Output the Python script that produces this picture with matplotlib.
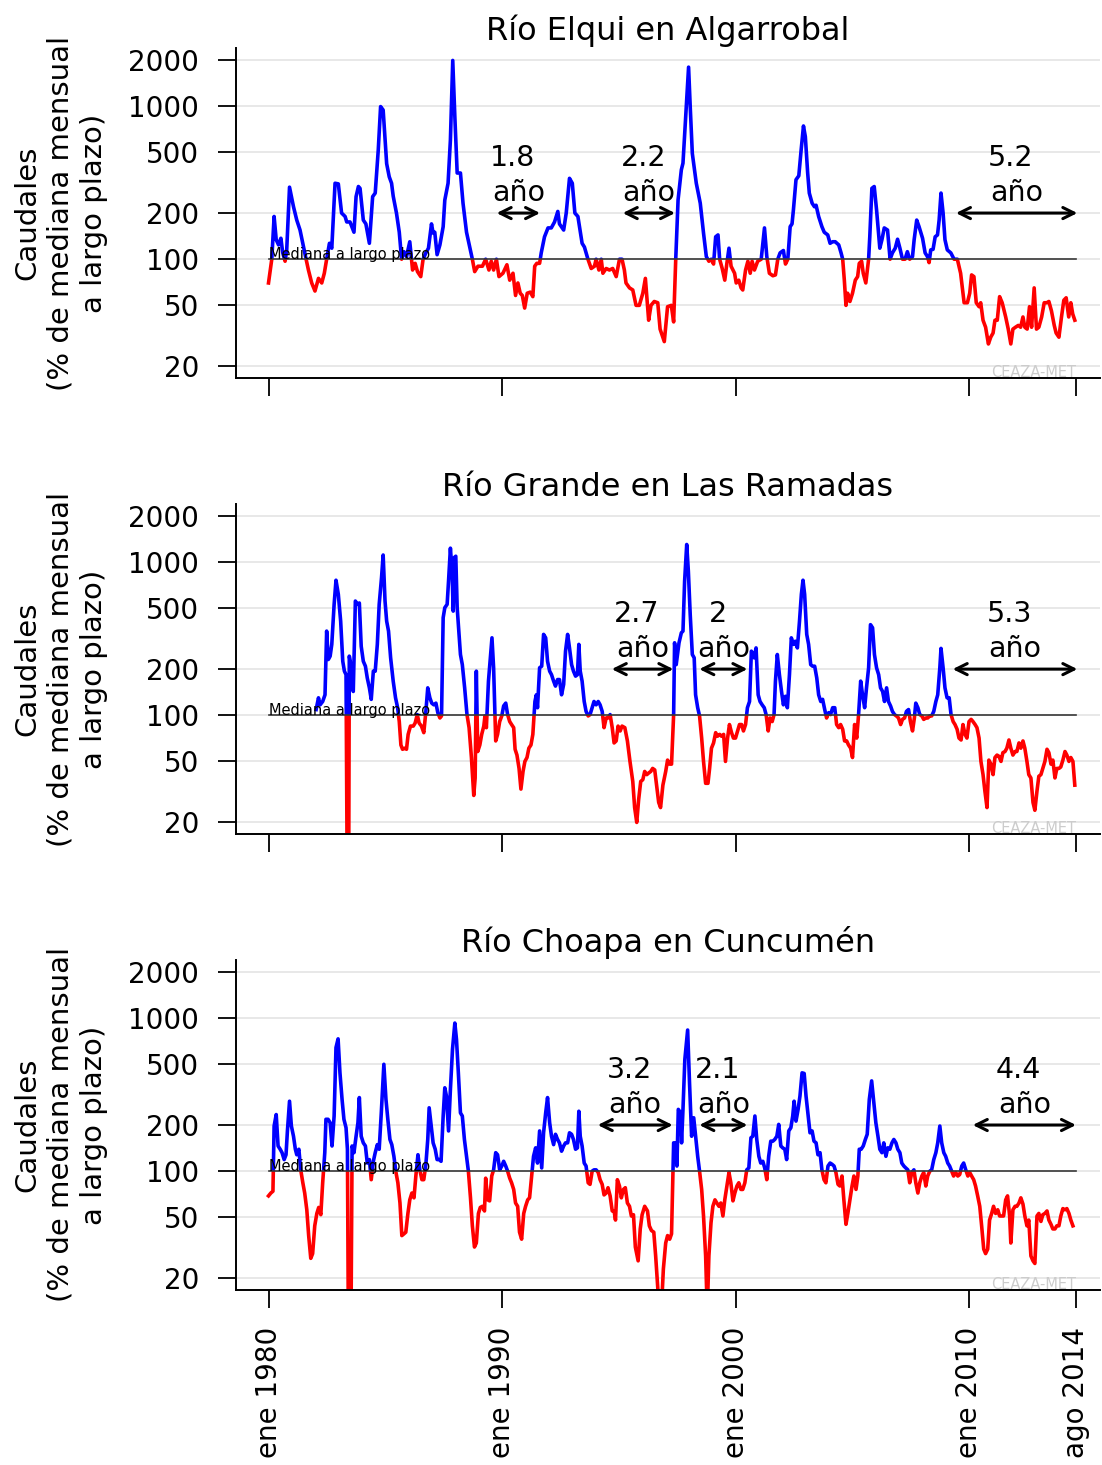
import numpy as np
import matplotlib.pyplot as plt
from matplotlib.patches import Rectangle

plt.rcParams['font.family'] = ['DejaVu Sans']

# caudal mensual, % de la mediana mensual de largo plazo
# pares (años desde ene 1980, %)
elqui = [
    (0.00, 70), (0.14, 100), (0.24, 190), (0.33, 134), (0.43, 124), (0.53, 137), (0.61, 110), (0.71, 97),
    (0.78, 115), (0.90, 295), (1.07, 220), (1.21, 180), (1.35, 155), (1.50, 120), (1.61, 100), (1.71, 85),
    (1.85, 70), (1.99, 62), (2.14, 75), (2.28, 70), (2.39, 81), (2.49, 100), (2.61, 127), (2.71, 118),
    (2.85, 313), (2.99, 310), (3.13, 200), (3.28, 190), (3.35, 175), (3.49, 175), (3.66, 150), (3.75, 256),
    (3.85, 298), (3.92, 290), (4.06, 180), (4.17, 170), (4.32, 127), (4.46, 256), (4.57, 270), (4.70, 515),
    (4.80, 990), (4.91, 940), (5.06, 420), (5.17, 345), (5.27, 313), (5.34, 258), (5.48, 200), (5.60, 150),
    (5.70, 100), (5.80, 112), (5.91, 104), (6.05, 130), (6.17, 85), (6.28, 94), (6.38, 83), (6.52, 77),
    (6.62, 100), (6.74, 110), (6.85, 118), (6.98, 170), (7.05, 148), (7.12, 150), (7.22, 107), (7.34, 124),
    (7.48, 163), (7.55, 243), (7.69, 313), (7.79, 600), (7.89, 1980), (7.98, 850), (8.08, 365), (8.22, 365),
    (8.33, 232), (8.48, 150), (8.62, 120), (8.73, 100), (8.83, 83), (8.97, 90), (9.16, 90), (9.30, 100),
    (9.44, 85), (9.54, 97), (9.64, 85), (9.76, 100), (9.87, 77), (10.04, 81), (10.21, 92), (10.33, 73),
    (10.47, 81), (10.58, 58), (10.68, 70), (10.78, 60), (10.87, 58), (10.97, 48), (11.08, 60), (11.21, 61),
    (11.32, 57), (11.40, 90), (11.49, 94), (11.61, 94), (11.68, 110), (11.82, 140), (11.97, 160), (12.11, 160),
    (12.25, 175), (12.39, 205), (12.46, 170), (12.64, 155), (12.75, 200), (12.89, 337), (13.01, 313), (13.12, 200),
    (13.25, 190), (13.43, 127), (13.53, 120), (13.68, 100), (13.82, 87), (13.96, 90), (14.03, 100), (14.15, 85),
    (14.25, 100), (14.32, 81), (14.46, 87), (14.60, 85), (14.74, 87), (14.89, 77), (15.03, 100), (15.14, 100),
    (15.24, 85), (15.31, 70), (15.46, 65), (15.60, 63), (15.74, 50), (15.88, 50), (16.03, 60), (16.14, 75),
    (16.28, 40), (16.38, 50), (16.52, 53), (16.67, 52), (16.77, 35), (16.95, 29), (17.09, 49), (17.25, 50),
    (17.35, 39), (17.44, 100), (17.54, 244), (17.68, 383), (17.75, 423), (17.89, 990), (17.99, 1790), (18.06, 990),
    (18.15, 490), (18.32, 313), (18.49, 232), (18.63, 148), (18.75, 104), (18.86, 97), (18.96, 100), (19.06, 93),
    (19.15, 140), (19.25, 144), (19.32, 100), (19.43, 87), (19.54, 73), (19.63, 94), (19.72, 118), (19.81, 90),
    (19.96, 81), (20.03, 70), (20.14, 73), (20.24, 65), (20.31, 63), (20.43, 85), (20.53, 97), (20.63, 81),
    (20.71, 97), (20.81, 85), (20.95, 97), (21.10, 100), (21.24, 160), (21.34, 104), (21.45, 81), (21.60, 78),
    (21.71, 79), (21.81, 100), (21.91, 110), (22.05, 114), (22.14, 93), (22.24, 100), (22.34, 163), (22.42, 170),
    (22.48, 210), (22.59, 330), (22.71, 350), (22.81, 515), (22.91, 740), (22.99, 630), (23.09, 365), (23.16, 270),
    (23.28, 232), (23.38, 220), (23.45, 225), (23.56, 190), (23.70, 163), (23.80, 150), (23.95, 144), (24.05, 127),
    (24.16, 130), (24.27, 130), (24.42, 124), (24.52, 110), (24.59, 100), (24.66, 73), (24.73, 50), (24.80, 60),
    (24.90, 53), (25.01, 60), (25.13, 73), (25.23, 77), (25.30, 94), (25.40, 97), (25.47, 81), (25.58, 70),
    (25.70, 100), (25.75, 140), (25.84, 290), (25.94, 298), (26.04, 210), (26.18, 118), (26.27, 134), (26.37, 160),
    (26.51, 155), (26.62, 100), (26.72, 110), (26.84, 118), (26.94, 135), (27.04, 118), (27.15, 100), (27.26, 100),
    (27.36, 112), (27.46, 100), (27.58, 104), (27.65, 134), (27.76, 180), (27.86, 163), (28.01, 137), (28.12, 110),
    (28.22, 104), (28.29, 95), (28.36, 115), (28.46, 116), (28.55, 140), (28.65, 144), (28.72, 180), (28.80, 270),
    (28.89, 200), (28.97, 134), (29.07, 115), (29.22, 110), (29.36, 100), (29.50, 100), (29.64, 81), (29.79, 52),
    (29.93, 52), (30.03, 60), (30.11, 79), (30.21, 77), (30.31, 52), (30.43, 49), (30.50, 52), (30.60, 40),
    (30.71, 36), (30.83, 28), (30.93, 31), (31.03, 33), (31.11, 40), (31.21, 40), (31.31, 57), (31.42, 52),
    (31.57, 42), (31.68, 35), (31.79, 28), (31.88, 35), (31.99, 36), (32.11, 37), (32.21, 36), (32.31, 42),
    (32.39, 36), (32.49, 35), (32.59, 49), (32.68, 36), (32.79, 65), (32.89, 35), (32.99, 36), (33.11, 42),
    (33.22, 52), (33.33, 52), (33.42, 53), (33.53, 46), (33.65, 37), (33.73, 33), (33.85, 31), (33.96, 42),
    (34.06, 54), (34.16, 56), (34.27, 42), (34.36, 52), (34.44, 44), (34.53, 40),
]

grande = [
    (2.04, 109), (2.14, 130), (2.21, 117), (2.32, 123), (2.42, 136), (2.49, 354), (2.56, 231), (2.64, 243),
    (2.71, 290), (2.81, 529), (2.89, 760), (2.99, 615), (3.09, 411), (3.18, 225), (3.25, 194), (3.32, 184),
    (3.38, 5), (3.43, 5), (3.46, 243), (3.55, 204), (3.63, 143), (3.72, 556), (3.80, 529), (3.89, 540),
    (3.97, 282), (4.06, 225), (4.15, 209), (4.23, 175), (4.32, 151), (4.40, 127), (4.49, 194), (4.57, 194),
    (4.66, 290), (4.74, 529), (4.84, 790), (4.91, 1110), (4.99, 556), (5.06, 411), (5.14, 354), (5.23, 237),
    (5.34, 167), (5.44, 130), (5.53, 112), (5.60, 91), (5.67, 64), (5.74, 60), (5.84, 61), (5.91, 60),
    (5.98, 75), (6.08, 85), (6.20, 85), (6.28, 89), (6.37, 101), (6.45, 89), (6.55, 85), (6.65, 77),
    (6.74, 106), (6.82, 151), (6.91, 130), (6.99, 120), (7.08, 117), (7.17, 120), (7.25, 104), (7.34, 96),
    (7.41, 99), (7.48, 433), (7.55, 503), (7.65, 529), (7.71, 750), (7.79, 1230), (7.86, 872), (7.91, 478),
    (7.96, 1070), (8.02, 1090), (8.08, 503), (8.16, 337), (8.22, 249), (8.30, 214), (8.40, 151), (8.50, 101),
    (8.59, 83), (8.69, 53), (8.79, 30), (8.85, 39), (8.90, 194), (8.96, 58), (9.05, 64), (9.13, 75),
    (9.22, 85), (9.27, 99), (9.33, 83), (9.42, 167), (9.50, 237), (9.57, 320), (9.64, 204), (9.73, 68),
    (9.81, 75), (9.90, 91), (9.99, 99), (10.07, 115), (10.16, 120), (10.24, 101), (10.33, 91), (10.41, 87),
    (10.50, 83), (10.56, 60), (10.64, 55), (10.73, 45), (10.81, 33), (10.90, 43), (10.98, 50), (11.07, 53),
    (11.15, 61), (11.24, 64), (11.32, 75), (11.41, 123), (11.47, 136), (11.52, 112), (11.61, 204), (11.70, 209),
    (11.78, 337), (11.87, 320), (11.95, 225), (12.04, 194), (12.12, 184), (12.21, 167), (12.29, 155), (12.38, 171),
    (12.46, 171), (12.55, 136), (12.64, 159), (12.72, 262), (12.81, 337), (12.89, 275), (12.98, 214), (13.06, 194),
    (13.15, 180), (13.23, 184), (13.29, 290), (13.35, 194), (13.43, 167), (13.52, 123), (13.60, 106), (13.69, 99),
    (13.77, 101), (13.86, 112), (13.94, 123), (14.03, 117), (14.12, 123), (14.20, 117), (14.29, 106), (14.37, 83),
    (14.46, 96), (14.54, 96), (14.63, 101), (14.72, 83), (14.80, 66), (14.89, 68), (14.97, 85), (15.06, 79),
    (15.14, 85), (15.26, 83), (15.37, 68), (15.48, 50), (15.60, 37), (15.68, 25), (15.77, 20), (15.85, 28),
    (15.94, 37), (16.03, 38), (16.11, 43), (16.20, 41), (16.28, 42), (16.37, 43), (16.45, 45), (16.54, 44),
    (16.62, 35), (16.71, 27), (16.79, 25), (16.89, 35), (17.01, 43), (17.09, 51), (17.18, 48), (17.26, 48),
    (17.35, 101), (17.39, 297), (17.46, 214), (17.58, 297), (17.68, 345), (17.75, 354), (17.82, 750), (17.91, 1300),
    (17.98, 872), (18.06, 454), (18.15, 249), (18.23, 237), (18.29, 136), (18.38, 112), (18.46, 99), (18.55, 71),
    (18.63, 50), (18.72, 36), (18.82, 36), (18.89, 45), (18.97, 61), (19.06, 66), (19.15, 77), (19.23, 73),
    (19.32, 75), (19.40, 73), (19.49, 75), (19.57, 50), (19.66, 71), (19.74, 87), (19.83, 77), (19.91, 71),
    (20.00, 71), (20.09, 79), (20.17, 87), (20.26, 87), (20.34, 79), (20.43, 87), (20.51, 112), (20.60, 123),
    (20.68, 262), (20.80, 237), (20.88, 275), (20.97, 136), (21.05, 123), (21.14, 117), (21.23, 112), (21.31, 101),
    (21.40, 79), (21.48, 96), (21.57, 91), (21.65, 101), (21.71, 167), (21.79, 249), (21.88, 184), (21.97, 143),
    (22.05, 117), (22.14, 133), (22.22, 112), (22.31, 184), (22.39, 320), (22.48, 290), (22.56, 304), (22.65, 275),
    (22.74, 411), (22.82, 615), (22.89, 760), (22.96, 615), (23.05, 337), (23.13, 290), (23.22, 214), (23.30, 209),
    (23.39, 209), (23.48, 175), (23.56, 136), (23.65, 123), (23.73, 127), (23.82, 109), (23.90, 96), (23.99, 104),
    (24.07, 101), (24.16, 112), (24.25, 112), (24.33, 87), (24.42, 83), (24.50, 87), (24.59, 81), (24.67, 68),
    (24.76, 68), (24.84, 64), (24.93, 61), (25.01, 53), (25.10, 87), (25.19, 71), (25.27, 101), (25.36, 167),
    (25.44, 136), (25.53, 112), (25.61, 151), (25.70, 204), (25.78, 390), (25.87, 372), (25.95, 249), (26.04, 204),
    (26.13, 184), (26.21, 151), (26.30, 143), (26.38, 123), (26.47, 151), (26.55, 123), (26.64, 115), (26.72, 106),
    (26.81, 101), (26.89, 99), (26.98, 96), (27.07, 87), (27.15, 94), (27.24, 96), (27.32, 106), (27.41, 109),
    (27.49, 91), (27.58, 79), (27.66, 96), (27.72, 120), (27.81, 112), (27.89, 101), (27.98, 99), (28.06, 94),
    (28.15, 96), (28.23, 96), (28.32, 99), (28.40, 99), (28.49, 106), (28.58, 123), (28.66, 136), (28.75, 204),
    (28.80, 273), (28.89, 204), (28.97, 151), (29.06, 130), (29.15, 130), (29.23, 101), (29.32, 91), (29.40, 87),
    (29.49, 81), (29.57, 71), (29.66, 69), (29.74, 87), (29.83, 75), (29.91, 71), (30.00, 91), (30.09, 94),
    (30.17, 91), (30.26, 87), (30.34, 83), (30.43, 71), (30.51, 50), (30.60, 41), (30.68, 32), (30.77, 25),
    (30.85, 51), (30.94, 48), (31.03, 41), (31.11, 53), (31.20, 55), (31.28, 54), (31.37, 50), (31.45, 57),
    (31.54, 58), (31.62, 61), (31.71, 69), (31.79, 61), (31.88, 55), (31.97, 58), (32.05, 58), (32.14, 66),
    (32.22, 61), (32.31, 68), (32.39, 61), (32.48, 50), (32.56, 41), (32.65, 39), (32.74, 27), (32.82, 24),
    (32.91, 32), (32.99, 40), (33.08, 41), (33.16, 45), (33.25, 50), (33.34, 60), (33.42, 57), (33.51, 48),
    (33.59, 51), (33.68, 39), (33.76, 45), (33.85, 45), (33.93, 46), (34.02, 51), (34.11, 58), (34.19, 55),
    (34.28, 50), (34.36, 53), (34.45, 50), (34.53, 35),
]

choapa = [
    (0.00, 69), (0.10, 72), (0.19, 74), (0.24, 197), (0.33, 234), (0.41, 146), (0.50, 139), (0.58, 132),
    (0.67, 119), (0.75, 128), (0.81, 183), (0.90, 286), (0.98, 197), (1.07, 169), (1.15, 139), (1.21, 128),
    (1.30, 139), (1.38, 102), (1.47, 84), (1.55, 72), (1.64, 56), (1.72, 38), (1.81, 27), (1.89, 29),
    (1.98, 44), (2.07, 53), (2.15, 58), (2.24, 52), (2.32, 84), (2.41, 132), (2.46, 218), (2.55, 218),
    (2.64, 207), (2.72, 146), (2.81, 229), (2.89, 640), (2.98, 730), (3.06, 438), (3.15, 294), (3.23, 218),
    (3.32, 192), (3.38, 139), (3.43, 5), (3.52, 5), (3.58, 146), (3.66, 132), (3.75, 169), (3.83, 207),
    (3.89, 302), (3.97, 169), (4.06, 153), (4.15, 146), (4.23, 113), (4.32, 119), (4.40, 88), (4.49, 116),
    (4.57, 132), (4.66, 149), (4.74, 139), (4.83, 240), (4.94, 498), (5.03, 294), (5.11, 218), (5.20, 161),
    (5.28, 149), (5.37, 125), (5.46, 98), (5.54, 84), (5.63, 62), (5.71, 38), (5.80, 39), (5.88, 40),
    (5.97, 53), (6.05, 65), (6.14, 72), (6.23, 67), (6.31, 93), (6.40, 128), (6.48, 102), (6.57, 88),
    (6.65, 88), (6.74, 111), (6.82, 161), (6.88, 259), (6.97, 197), (7.05, 153), (7.14, 139), (7.22, 119),
    (7.31, 119), (7.39, 116), (7.48, 229), (7.55, 350), (7.62, 309), (7.71, 183), (7.79, 341), (7.88, 625),
    (7.98, 925), (8.05, 725), (8.13, 438), (8.22, 240), (8.30, 229), (8.39, 161), (8.48, 125), (8.56, 100),
    (8.65, 67), (8.73, 44), (8.82, 32), (8.90, 34), (8.99, 53), (9.07, 58), (9.16, 59), (9.25, 55),
    (9.30, 90), (9.39, 65), (9.47, 64), (9.56, 93), (9.64, 102), (9.73, 132), (9.81, 128), (9.90, 102),
    (9.99, 108), (10.07, 116), (10.16, 108), (10.24, 100), (10.33, 90), (10.41, 84), (10.50, 76), (10.58, 62),
    (10.67, 59), (10.75, 40), (10.84, 36), (10.93, 53), (11.01, 59), (11.10, 65), (11.18, 67), (11.27, 93),
    (11.35, 125), (11.44, 142), (11.52, 113), (11.61, 183), (11.70, 105), (11.78, 178), (11.87, 240), (11.95, 302),
    (12.04, 207), (12.12, 169), (12.21, 149), (12.29, 174), (12.38, 161), (12.46, 153), (12.55, 135), (12.64, 146),
    (12.72, 153), (12.81, 153), (12.89, 178), (12.98, 174), (13.06, 161), (13.15, 139), (13.23, 142), (13.29, 246),
    (13.35, 169), (13.43, 146), (13.52, 113), (13.60, 108), (13.69, 84), (13.77, 82), (13.86, 100), (13.94, 102),
    (14.03, 102), (14.12, 98), (14.20, 88), (14.29, 82), (14.37, 70), (14.46, 72), (14.54, 78), (14.63, 69),
    (14.72, 55), (14.80, 55), (14.86, 48), (14.94, 88), (15.03, 80), (15.11, 67), (15.20, 76), (15.28, 78),
    (15.37, 62), (15.46, 59), (15.54, 51), (15.63, 52), (15.71, 32), (15.83, 26), (15.92, 42), (16.00, 52),
    (16.11, 59), (16.23, 55), (16.31, 44), (16.40, 41), (16.50, 40), (16.58, 28), (16.74, 12), (16.82, 12),
    (16.91, 23), (17.01, 34), (17.09, 38), (17.18, 36), (17.26, 39), (17.32, 100), (17.35, 153), (17.44, 153),
    (17.49, 108), (17.55, 253), (17.64, 240), (17.69, 153), (17.75, 253), (17.83, 536), (17.95, 833), (18.03, 378),
    (18.12, 169), (18.21, 223), (18.29, 169), (18.38, 125), (18.46, 100), (18.55, 76), (18.63, 51), (18.72, 28),
    (18.79, 12), (18.86, 28), (18.95, 46), (19.03, 59), (19.12, 65), (19.20, 62), (19.29, 59), (19.37, 62),
    (19.46, 51), (19.54, 65), (19.63, 80), (19.72, 98), (19.80, 84), (19.89, 64), (19.97, 72), (20.06, 80),
    (20.14, 84), (20.23, 76), (20.31, 76), (20.40, 84), (20.48, 102), (20.57, 105), (20.66, 165), (20.74, 169),
    (20.83, 229), (20.91, 161), (21.00, 125), (21.08, 113), (21.17, 116), (21.25, 105), (21.34, 88), (21.42, 125),
    (21.51, 157), (21.60, 157), (21.68, 161), (21.77, 169), (21.85, 202), (21.94, 146), (22.02, 142), (22.11, 139),
    (22.19, 119), (22.28, 183), (22.37, 192), (22.45, 229), (22.51, 286), (22.59, 212), (22.68, 253), (22.76, 309),
    (22.85, 438), (22.94, 434), (23.02, 309), (23.11, 229), (23.19, 178), (23.28, 183), (23.36, 157), (23.45, 153),
    (23.53, 128), (23.62, 132), (23.70, 102), (23.79, 88), (23.87, 84), (23.96, 108), (24.05, 113), (24.13, 111),
    (24.22, 108), (24.30, 98), (24.39, 82), (24.47, 80), (24.56, 93), (24.64, 65), (24.73, 45), (24.81, 53),
    (24.90, 65), (24.99, 80), (25.07, 93), (25.16, 76), (25.24, 93), (25.30, 139), (25.38, 139), (25.47, 146),
    (25.56, 161), (25.64, 174), (25.73, 294), (25.83, 388), (25.91, 294), (26.01, 207), (26.10, 169), (26.18, 139),
    (26.27, 132), (26.35, 153), (26.44, 125), (26.52, 142), (26.61, 139), (26.70, 153), (26.78, 161), (26.87, 153),
    (26.95, 139), (27.04, 132), (27.12, 113), (27.21, 108), (27.29, 105), (27.38, 102), (27.46, 84), (27.55, 98),
    (27.64, 102), (27.72, 84), (27.81, 72), (27.89, 84), (27.98, 93), (28.06, 98), (28.15, 80), (28.23, 93),
    (28.32, 100), (28.40, 102), (28.49, 119), (28.58, 132), (28.66, 153), (28.75, 197), (28.83, 153), (28.92, 132),
    (29.00, 125), (29.09, 113), (29.17, 108), (29.26, 100), (29.34, 93), (29.43, 98), (29.52, 93), (29.60, 95),
    (29.69, 108), (29.77, 113), (29.86, 102), (29.95, 93), (30.03, 98), (30.11, 93), (30.20, 88), (30.28, 80),
    (30.37, 69), (30.46, 59), (30.54, 44), (30.63, 31), (30.71, 29), (30.80, 31), (30.88, 48), (30.97, 53),
    (31.05, 59), (31.14, 53), (31.23, 56), (31.31, 51), (31.40, 51), (31.48, 51), (31.57, 65), (31.65, 69),
    (31.74, 51), (31.79, 34), (31.88, 56), (31.97, 59), (32.05, 59), (32.14, 62), (32.22, 67), (32.31, 61),
    (32.39, 51), (32.48, 44), (32.56, 48), (32.65, 28), (32.74, 26), (32.82, 25), (32.91, 51), (32.99, 53),
    (33.08, 47), (33.16, 52), (33.25, 53), (33.34, 55), (33.42, 48), (33.51, 45), (33.59, 42), (33.68, 42),
    (33.76, 44), (33.85, 44), (33.93, 51), (34.02, 57), (34.11, 56), (34.19, 57), (34.28, 53), (34.36, 48),
    (34.45, 44),
]

titulos = ["Río Elqui en Algarrobal", "Río Grande en Las Ramadas", "Río Choapa en Cuncumén"]

# duración de las sequías: (años, inicio, fin) en años desde ene 1980
sequias_elqui = [("1.8", 9.77, 11.63), ("2.2", 15.17, 17.41), ("5.2", 29.44, 34.64)]
sequias_grande = [("2.7", 14.70, 17.34), ("2", 18.45, 20.51), ("5.3", 29.30, 34.64)]
sequias_choapa = [("3.2", 14.10, 17.31), ("2.1", 18.45, 20.51), ("4.4", 30.16, 34.58)]

yticks = [20, 50, 100, 200, 500, 1000, 2000]
xticks = [1980, 1990, 2000, 2010, 2014 + 7 / 12]
xlabels = ["ene 1980", "ene 1990", "ene 2000", "ene 2010", "ago 2014"]

fig = plt.figure(figsize=(11.02, 14.65), dpi=100)
bottoms = [0.7420, 0.4307, 0.1195]
series = [elqui, grande, choapa]
sequias = [sequias_elqui, sequias_grande, sequias_choapa]
x0, x1 = 1978.61, 2015.61
y0, y1 = 16.8, 2390

for i in range(3):
    ax = fig.add_axes([0.2142, bottoms[i], 0.7840, 0.2253])
    t = 1980 + np.array([p[0] for p in series[i]])
    q = np.array([p[1] for p in series[i]], dtype=float)

    ax.set_yscale('log')
    ax.set_ylim(y0, y1)
    ax.set_xlim(x0, x1)

    # azul sobre la mediana, rojo bajo la mediana
    azul, = ax.plot(t, q, color='blue', lw=2.6, solid_joinstyle='round')
    rojo, = ax.plot(t, q, color='red', lw=2.6, solid_joinstyle='round')
    azul.set_clip_path(Rectangle((x0, 100), x1 - x0, y1 - 100, transform=ax.transData))
    rojo.set_clip_path(Rectangle((x0, y0), x1 - x0, 100 - y0, transform=ax.transData))

    ax.plot([1980, xticks[-1]], [100, 100], color='#383838', lw=1.2)
    ax.text(1980, 100, "Mediana a largo plazo", fontsize=10.5, ha='left', va='baseline')
    ax.text(xticks[-1], 0.004, "CEAZA-MET", fontsize=10.5, color='#cccccc',
            ha='right', va='baseline', transform=ax.get_xaxis_transform())

    for num, ini, fin in sequias[i]:
        mid = 1980 + (ini + fin) / 2
        ax.annotate("", xy=(1980 + ini, 200), xytext=(1980 + fin, 200),
                    arrowprops=dict(arrowstyle='<->', lw=2.2, color='black',
                                    mutation_scale=20, shrinkA=0, shrinkB=0))
        ax.text(mid - 0.24, 408, num, fontsize=20.5, ha='center', va='baseline')
        ax.text(mid, 241, "año", fontsize=20.5, ha='center', va='baseline')

    ax.set_title(titulos[i], fontsize=23, pad=6)

    ax.set_yticks(yticks)
    ax.set_yticklabels([str(v) for v in yticks])
    ax.yaxis.set_minor_locator(plt.NullLocator())
    ax.set_xticks(xticks)
    if i == 2:
        ax.set_xticklabels(xlabels, rotation=90)
    else:
        ax.set_xticklabels([])
    ax.tick_params(axis='both', length=13, width=1.3, pad=13.5, labelsize=20)

    ax.grid(axis='y', color='#e4e4e4', lw=1.2)
    ax.set_axisbelow(True)
    for lado in ['top', 'right']:
        ax.spines[lado].set_visible(False)
    for lado in ['left', 'bottom']:
        ax.spines[lado].set_linewidth(1.4)

    fig.text(61 / 1102, bottoms[i] + 0.2253 / 2,
             "Caudales\n(% de mediana mensual\na largo plazo)",
             rotation=90, ha='center', va='center', fontsize=21,
             multialignment='center', linespacing=1.25)

fig.savefig("out.png", dpi=100)
